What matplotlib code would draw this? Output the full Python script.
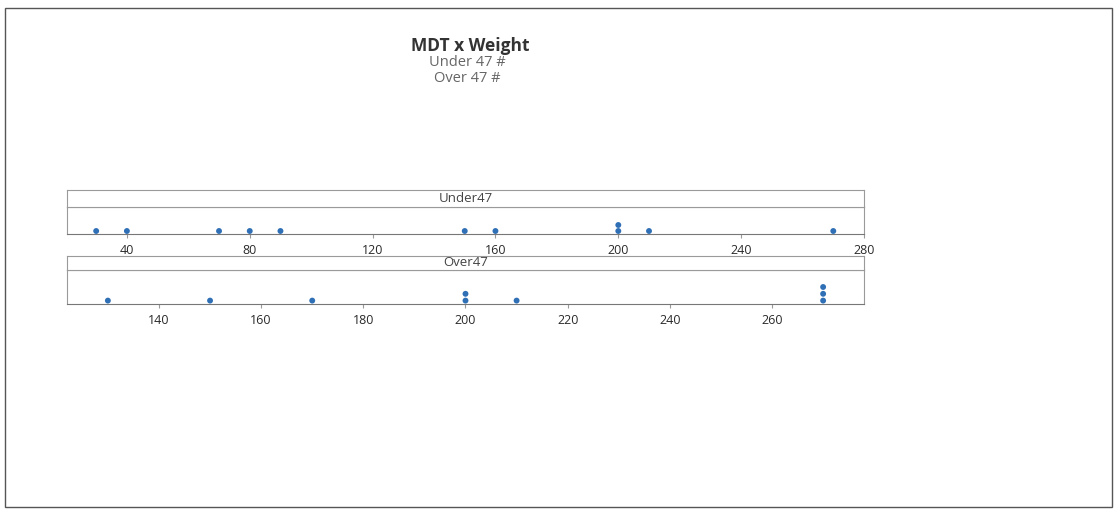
import matplotlib
matplotlib.use("Agg")
import matplotlib.pyplot as plt
from matplotlib.patches import Rectangle
from collections import Counter

title = "MDT x Weight"
subtitles = ["Under 47 #", "Over 47 #"]
under_label = "Under47"
over_label = "Over47"
under_values = [30, 40, 70, 80, 90, 150, 160, 200, 200, 210, 270]
over_values = [130, 150, 170, 200, 200, 210, 270, 270, 270]
under_ticks = [40, 80, 120, 160, 200, 240, 280]
over_ticks = [140, 160, 180, 200, 220, 240, 260]

dot_color = "#2F6FB5"
edge = "#9a9a9a"
plt.rcParams['font.family'] = ['Open Sans', 'DejaVu Sans']

fig = plt.figure(figsize=(11.15, 5.12), dpi=100)
fig.patches.append(Rectangle((5/1115, 1-507/512), 1107/1115, 499/512,
                             transform=fig.transFigure, fill=False,
                             edgecolor="#555555", linewidth=1.0))

fig.text(470/1115, 1-46/512, title, ha="center", va="center",
         fontsize=12.5, fontweight="bold", color="#333333")
fig.text(467/1115, 1-63/512, subtitles[0], ha="center", va="center",
         fontsize=10.5, color="#666666")
fig.text(467/1115, 1-79/512, subtitles[1], ha="center", va="center",
         fontsize=10.5, color="#666666")

def panel(values, ticks, xlim, label, data_box, strip_box, ylim):
    l, r = 67/1115, 864/1115
    ax = fig.add_axes([l, 1-data_box[1]/512, r-l, (data_box[1]-data_box[0])/512])
    counts = Counter()
    xs, ys = [], []
    for v in values:
        counts[v] += 1
        xs.append(v)
        ys.append(counts[v])
    ax.scatter(xs, ys, s=18, color=dot_color, edgecolors="none", zorder=3)
    ax.set_xlim(*xlim)
    ax.set_ylim(*ylim)
    ax.set_yticks([])
    ax.set_xticks(ticks)
    ax.tick_params(axis="x", length=3, color=edge, labelsize=9,
                   labelcolor="#2a2a2a", pad=4)
    for s in ax.spines.values():
        s.set_color(edge)
        s.set_linewidth(0.8)
    ax.spines["bottom"].set_color("#777777")
    sax = fig.add_axes([l, 1-strip_box[1]/512, r-l, (strip_box[1]-strip_box[0])/512])
    sax.set_xticks([])
    sax.set_yticks([])
    for s in sax.spines.values():
        s.set_color(edge)
        s.set_linewidth(0.8)
    sax.text(0.5, 0.5, label, transform=sax.transAxes, ha="center",
             va="center", fontsize=9.5, color="#444444")
    return ax

panel(under_values, under_ticks, (20.5, 280), under_label, (207, 234), (190, 207), (0.5, 5.0))
panel(over_values, over_ticks, (122, 278), over_label, (270, 304), (256, 270), (0.5, 5.5))

fig.savefig("out.png", dpi=100)
